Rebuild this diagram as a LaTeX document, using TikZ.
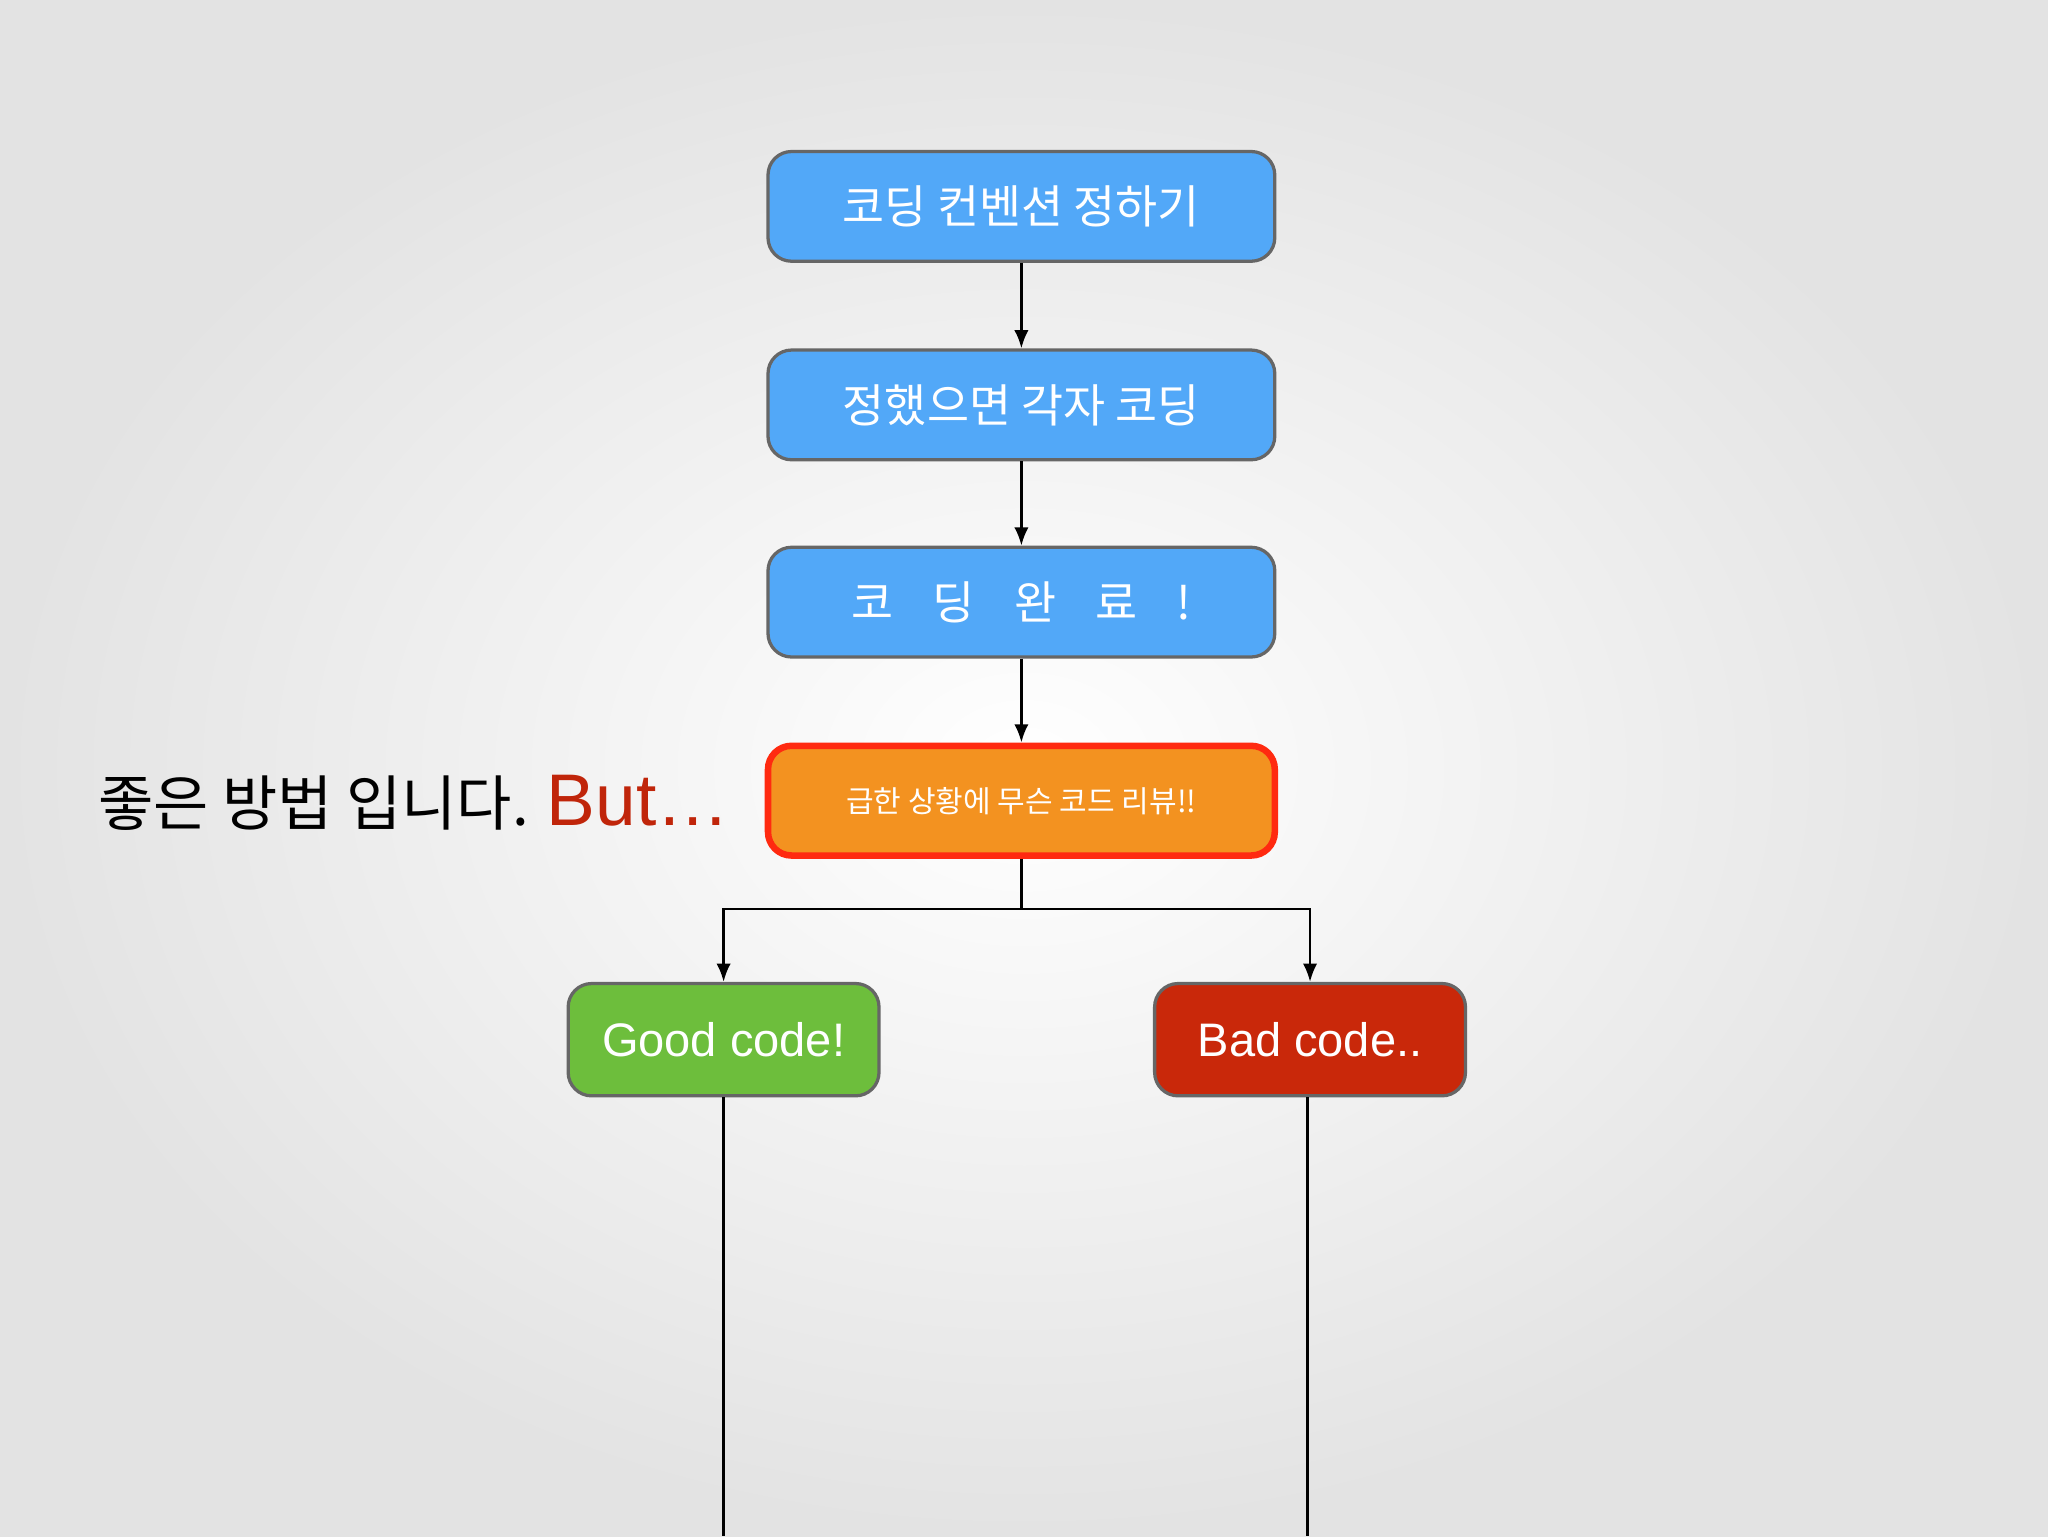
\documentclass[tikz,border=0pt]{standalone}
\usepackage{fontspec}
\setmainfont{Liberation Sans}
\newfontfamily\kr{Noto Sans CJK KR}
\usetikzlibrary{arrows.meta}
\definecolor{bluebox}{HTML}{52A8F8}
\definecolor{orangebox}{HTML}{F39220}
\definecolor{redborder}{HTML}{FF2A10}
\definecolor{greenbox}{HTML}{6DBE3C}
\definecolor{badbox}{HTML}{C9280A}
\definecolor{butred}{HTML}{C0250A}
\tikzset{
 bx/.style={draw=black!60, line width=2.5pt, rounded corners=18pt, text=white, inner sep=0pt},
 conn/.style={line width=2pt, -{Latex[length=14pt,width=11pt]}},
 plain/.style={line width=2pt}
}
\begin{document}
\begin{tikzpicture}[x=1pt,y=-1pt]
\useasboundingbox (0,0) rectangle (1568,1176);
\shade[inner color=white, outer color=black!11] (0,0) rectangle (1568,1176);
\node[bx, fill=bluebox, minimum width=388pt, minimum height=84pt, font=\kr\fontsize{35}{38}\selectfont] (a) at (782,158) {코딩 컨벤션 정하기};
\node[bx, fill=bluebox, minimum width=388pt, minimum height=84pt, font=\kr\fontsize{35}{38}\selectfont] (b) at (782,310) {정했으면 각자 코딩};
\node[bx, fill=bluebox, minimum width=388pt, minimum height=84pt, font=\kr\fontsize{35}{38}\selectfont] (c) at (782,461) {코\hspace{30pt}딩\hspace{30pt}완\hspace{30pt}료\hspace{30pt}!};
\node[bx, draw=redborder, line width=5pt, fill=orangebox, minimum width=388pt, minimum height=84pt, font=\kr\fontsize{23}{26}\selectfont] (d) at (782,613) {급한 상황에 무슨 코드 리뷰!!};
\node[bx, fill=greenbox, minimum width=238pt, minimum height=86pt, font=\fontsize{36}{40}\selectfont] (g) at (554,796) {Good code!};
\node[bx, fill=badbox, minimum width=238pt, minimum height=86pt, font=\fontsize{36}{40}\selectfont] (h) at (1003,796) {Bad code..};
\draw[conn] (a) -- (b);
\draw[conn] (b) -- (c);
\draw[conn] (c) -- (d);
\coordinate (j) at (782,696);
\draw[conn] (d.south) -- (j) -| (g.north);
\draw[conn] (j) -| (h.north);
\coordinate (ge) at (554,1176);
\coordinate (he) at (1001,1176);
\draw[plain] (g.south) -- (ge);
\draw[plain] (h.south -| he) -- (he);
\node[anchor=base west, inner sep=0pt] (t) at (75,632) {{\kr\fontsize{46}{50}\selectfont 좋은 방법 입니다. }{\color{butred}\fontsize{56}{60}\selectfont But…}};
\end{tikzpicture}
\end{document}
